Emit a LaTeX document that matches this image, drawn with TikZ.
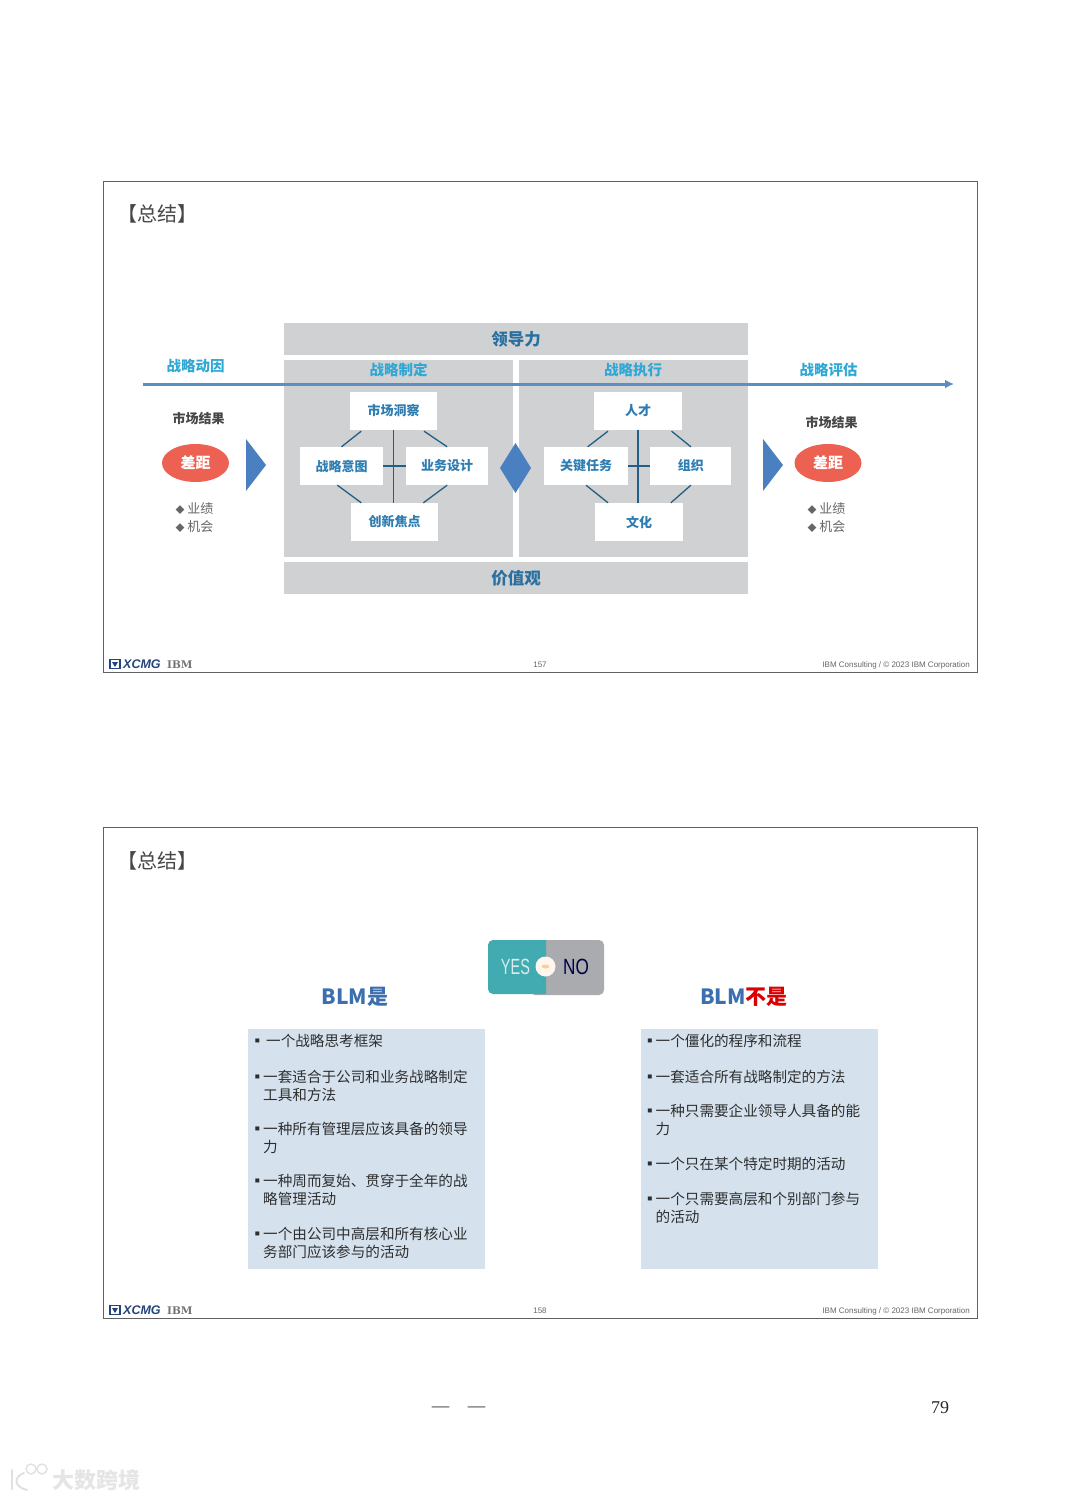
\documentclass[tikz,border=0pt]{standalone}
\usepackage{fontspec}
\setmainfont{Noto Sans CJK SC}
\newfontfamily\latinfont{Liberation Sans}
\newfontfamily\slabfont{DejaVu Serif}
\newfontfamily\pagefont{Liberation Serif}
\usetikzlibrary{arrows.meta,positioning,calc,shapes.geometric}
\definecolor{panelgrey}{HTML}{D0D1D3}
\definecolor{flowblue}{HTML}{5B8FC4}
\definecolor{shapeblue}{HTML}{4A80BF}
\definecolor{cellblue}{HTML}{2E7DB2}
\definecolor{headblue}{HTML}{2FA8D6}
\definecolor{gapred}{HTML}{EC6152}
\definecolor{listblue}{HTML}{D5E2EE}
\definecolor{blmblue}{HTML}{3C6FB0}
\definecolor{yesteal}{HTML}{41ABB1}
\definecolor{nogrey}{HTML}{A9ABAE}
\definecolor{logonavy}{HTML}{24457C}
\newcommand{\bulletgap}[1]{\makebox[#1][l]{\hspace*{-4pt}▪}}
\newcommand{\smallmark}{{\fontsize{9}{18}\selectfont◆} }

\begin{document}
\begin{tikzpicture}[
  x=1pt, y=-1pt,
  inner sep=0pt,
  slide/.style={draw=black!62, line width=0.7pt, fill=white},
  slidetitle/.style={text=black!72, font=\fontsize{20}{22}\selectfont},
  band/.style={fill=panelgrey, minimum width=464.5pt, minimum height=32pt, text=cellblue!90!black, font=\fontsize{16.5}{18}\selectfont\bfseries},
  panel/.style={fill=panelgrey, minimum width=229.5pt, minimum height=197pt},
  cell/.style={fill=white, minimum height=38pt, text=cellblue, font=\fontsize{13}{15}\selectfont\bfseries},
  phase/.style={text=headblue, font=\fontsize{14.5}{16}\selectfont\bfseries},
  result/.style={text=black!72, font=\fontsize{13}{15}\selectfont\bfseries},
  gap/.style={ellipse, fill=gapred, minimum width=67pt, minimum height=38pt, text=white, font=\fontsize{15}{16}\selectfont\bfseries},
  mark list/.style={text=black!60, align=left, font=\fontsize{13}{18}\selectfont},
  pointer/.style={fill=shapeblue},
  link/.style={draw=cellblue!75!black, line width=1.3pt},
  flow/.style={draw=flowblue, line width=3pt, -{Latex[length=9pt,width=9pt]}},
  listbox/.style={fill=listblue, minimum width=237pt, minimum height=240pt},
  item/.style={anchor=north west, align=left, text=black!82, font=\fontsize{14.6}{17.8}\selectfont},
  blm/.style={text=blmblue, font=\fontsize{21}{23}\selectfont\bfseries},
  footnote/.style={text=black!60, font=\latinfont\fontsize{8}{9}\selectfont},
  xcmgtext/.style={anchor=west, text=logonavy, font=\latinfont\fontsize{12.5}{13}\selectfont\bfseries\itshape},
  ibmtext/.style={anchor=west, text=black!55, font=\slabfont\fontsize{10.5}{11}\selectfont\bfseries},
  badge/.style={rectangle, draw=logonavy, line width=1.6pt, minimum width=10pt, minimum height=9pt}
]
\useasboundingbox (0,0) rectangle (1080,1499);

% first slide
\draw[slide] (103,181) rectangle (977,672);
\node[slidetitle, anchor=west] (title one) at (117,214) {【总结】};

\node[band] (leadership) at (516,339) {领导力};
\node[panel] (formulate) at (398.5,458.5) {};
\node[panel, right=5pt of formulate] (execute) {};
\node[band] (values) at (516,578) {价值观};

\node[phase] (driver) at (195.5,366) {战略动因};
\node[phase] (formulate head) at (398.5,370) {战略制定};
\node[phase] (execute head) at (633,370) {战略执行};
\node[phase] (review) at (828.5,370) {战略评估};
\coordinate (flow start) at (143,384);
\coordinate (flow end) at (954,384);
\draw[flow] (flow start) -- (flow end);

\node[cell, minimum width=87pt] (insight) at (393.5,410.5) {市场洞察};
\node[cell, minimum width=83pt] (intent) at (341.5,466) {战略意图};
\node[cell, minimum width=81.5pt, right=23pt of intent] (design) {业务设计};
\node[cell, minimum width=87pt] (focus) at (394.5,522) {创新焦点};

\draw[link] (insight.south) -- (insight.south |- focus.north);
\draw[link] (intent.east) -- (design.west);
\draw[link] ($(insight.south west)!0.13!(insight.south east)+(0,1.5)$) -- (intent.north);
\draw[link] ($(insight.south west)!0.85!(insight.south east)+(0,1.5)$) -- (design.north);
\draw[link] ($(intent.south west)!0.45!(intent.south east)$) -- ($(focus.north west)!0.12!(focus.north east)$);
\draw[link] (design.south) -- ($(focus.north west)!0.83!(focus.north east)$);

\node[cell, minimum width=88pt] (talent) at (638,410.5) {人才};
\node[cell, minimum width=84pt] (task) at (586,466) {关键任务};
\node[cell, minimum width=81pt, right=22pt of task] (org) {组织};
\node[cell, minimum width=88pt] (culture) at (639,522) {文化};

\draw[link] (talent.south) -- (talent.south |- culture.north);
\draw[link] (task.east) -- (org.west);
\draw[link] ($(talent.south west)!0.16!(talent.south east)+(0,1.5)$) -- ($(task.north west)!0.52!(task.north east)$);
\draw[link] ($(talent.south west)!0.88!(talent.south east)+(0,1.5)$) -- (org.north);
\draw[link] (task.south) -- ($(culture.north west)!0.15!(culture.north east)$);
\draw[link] (org.south) -- ($(culture.north west)!0.86!(culture.north east)$);

\fill[pointer] (246,439) -- (266,465) -- (246,491) -- cycle;
\fill[pointer] (515.5,443) -- (531,468) -- (515.5,493) -- (500,468) -- cycle;
\fill[pointer] (763,439) -- (783,465) -- (763,491) -- cycle;

\node[result] (result left) at (198.5,418) {市场结果};
\node[gap] (gap left) at (195.5,463) {差距};
\node[mark list] (marks left) at (194.5,518) {\smallmark 业绩\\\smallmark 机会};
\node[result] (result right) at (831.5,422) {市场结果};
\node[gap] (gap right) at (828,463) {差距};
\node[mark list] (marks right) at (826.5,518) {\smallmark 业绩\\\smallmark 机会};

\node[badge] (badge one) at (115,664) {};
\fill[logonavy] (112,662) -- (118,662) -- (115,667) -- cycle;
\node[xcmgtext] (xcmg one) at (123,664) {XCMG};
\node[ibmtext] (ibm one) at (167,665) {IBM};
\node[footnote] (page one) at (540,665) {157};
\node[footnote, anchor=east] (credit one) at (970,665) {IBM Consulting / © 2023 IBM Corporation};

% second slide
\draw[slide] (103,827) rectangle (977,1318);
\node[slidetitle, anchor=west] (title two) at (117,861) {【总结】};

\fill[nogrey, rounded corners=5pt] (530,940) rectangle (604,995);
\fill[yesteal] (546,994) [rounded corners=5pt] -- (488,994) -- (488,940) [sharp corners] -- (546,940) -- cycle;
\node[text=yesteal!22!white, font=\latinfont\fontsize{22}{24}\selectfont, xscale=0.66] (yes) at (515.5,967) {YES};
\node[text=black!72!blue, font=\latinfont\fontsize{22}{24}\selectfont, xscale=0.78] (no) at (576,967) {NO};
\fill[white!93!orange] (545.5,966.5) circle (10pt);
\fill[orange!40] (545.5,966.5) ellipse (4pt and 2pt);

\node[blm] (blm yes) at (355,997) {BLM是};
\node[blm] (blm not) at (744,997) {BLM\textcolor{red!85!black}{不是}};

\node[listbox] (list yes) at (366.5,1149) {};
\node[listbox] (list not) at (759,1149) {};

\node[item] (yes a) at (254,1034) {\bulletgap{12pt}一个战略思考框架};
\node[item] (yes b) at (254,1070) {\bulletgap{9pt}一套适合于公司和业务战略制定\\\hspace*{9pt}工具和方法};
\node[item] (yes c) at (254,1122) {\bulletgap{9pt}一种所有管理层应该具备的领导\\\hspace*{9pt}力};
\node[item] (yes d) at (254,1174) {\bulletgap{9pt}一种周而复始、贯穿于全年的战\\\hspace*{9pt}略管理活动};
\node[item] (yes e) at (254,1227) {\bulletgap{9pt}一个由公司中高层和所有核心业\\\hspace*{9pt}务部门应该参与的活动};

\node[item] (not a) at (646.5,1034) {\bulletgap{9pt}一个僵化的程序和流程};
\node[item] (not b) at (646.5,1070) {\bulletgap{9pt}一套适合所有战略制定的方法};
\node[item] (not c) at (646.5,1104) {\bulletgap{9pt}一种只需要企业领导人具备的能\\\hspace*{9pt}力};
\node[item] (not d) at (646.5,1157) {\bulletgap{9pt}一个只在某个特定时期的活动};
\node[item] (not e) at (646.5,1192) {\bulletgap{9pt}一个只需要高层和个别部门参与\\\hspace*{9pt}的活动};

\node[badge] (badge two) at (115,1310) {};
\fill[logonavy] (112,1308) -- (118,1308) -- (115,1313) -- cycle;
\node[xcmgtext] (xcmg two) at (123,1310) {XCMG};
\node[ibmtext] (ibm two) at (167,1311) {IBM};
\node[footnote] (page two) at (540,1311) {158};
\node[footnote, anchor=east] (credit two) at (970,1311) {IBM Consulting / © 2023 IBM Corporation};

% page foot
\node[text=black!80, font=\pagefont\fontsize{17.5}{19}\selectfont] (dash left) at (440.5,1409) {—};
\node[text=black!80, font=\pagefont\fontsize{17.5}{19}\selectfont] (dash right) at (476.5,1409) {—};
\node[text=black!85, font=\pagefont\fontsize{18}{20}\selectfont] (folio) at (940,1408) {79};

\draw[black!12, line width=2pt, line cap=round] (12,1470) -- (12,1489);
\draw[black!12, line width=2pt, line cap=round] (24,1473) .. controls (13,1477) and (14,1487) .. (27,1490);
\draw[black!12, line width=1.4pt] (31,1469) circle (5pt);
\draw[black!12, line width=1.4pt] (42,1469) circle (5pt);
\node[anchor=west, text=black!10, font=\fontsize{22}{24}\selectfont\bfseries] (mark) at (52,1480) {大数跨境};
\end{tikzpicture}
\end{document}
